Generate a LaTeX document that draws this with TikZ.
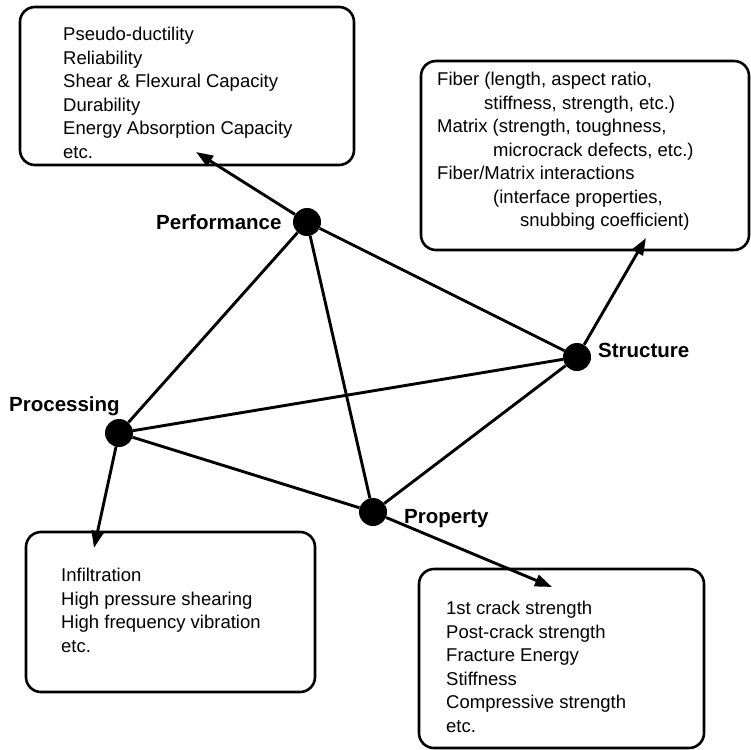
\documentclass[tikz,border=0pt]{standalone}
\usepackage{fontspec}
\setmainfont{Liberation Sans}
\usetikzlibrary{arrows.meta}
\begin{document}
\begin{tikzpicture}[x=1pt,y=-1pt,
  dot/.style={circle,fill=black,minimum size=28pt,inner sep=0pt},
  edge/.style={line width=2.9pt},
  arr/.style={line width=2.9pt,-{Triangle[length=17pt,width=12pt]}},
  panel/.style={draw,line width=2.6pt,rounded corners=15pt},
  boxtext/.style={anchor=north west,inner sep=0pt,align=left,font=\fontsize{18.5}{23.5}\selectfont},
  lab/.style={anchor=base west,inner sep=0pt,font=\fontsize{20.5}{24}\selectfont\bfseries}]
\fill[white] (0,0) rectangle (751,749);
\useasboundingbox (0,0) rectangle (751,749);

% boxes
\draw[panel] (20,7) rectangle (354,165);
\draw[panel] (421,61) rectangle (749,250);
\draw[panel] (26,532) rectangle (315,692);
\draw[panel] (419,569) rectangle (704,748);

% box texts
\node[boxtext] (perfText) at (63,27) {Pseudo-ductility\\Reliability\\Shear \& Flexural Capacity\\Durability\\Energy Absorption Capacity\\etc.};
\node[boxtext] (strucText) at (437,72) {Fiber (length, aspect ratio,\\\hspace*{47pt}stiffness, strength, etc.)\\Matrix (strength, toughness,\\\hspace*{56pt}microcrack defects, etc.)\\Fiber/Matrix interactions\\\hspace*{56pt}(interface properties,\\\hspace*{83pt}snubbing coefficient)};
\node[boxtext] (procText) at (61,568) {Infiltration\\High pressure shearing\\High frequency vibration\\etc.};
\node[boxtext] (propText) at (446,601) {1st crack strength\\Post-crack strength\\Fracture Energy\\Stiffness\\Compressive strength\\etc.};

% dots
\node[dot] (perf) at (307,222) {};
\node[dot] (struc) at (577,357) {};
\node[dot] (proc) at (119,433) {};
\node[dot] (prop) at (373,512) {};

% labels
\node[lab] (perfLab) at (156,229) {Performance};
\node[lab] (strucLab) at (598,357) {Structure};
\node[lab] (procLab) at (9,411) {Processing};
\node[lab] (propLab) at (404,523) {Property};

% tetrahedron edges
\draw[edge] (perf) -- (struc);
\draw[edge] (perf) -- (proc);
\draw[edge] (perf) -- (prop);
\draw[edge] (proc) -- (struc);
\draw[edge] (proc) -- (prop);
\draw[edge] (prop) -- (struc);

% arrow tips
\coordinate (perfTip) at (196,152);
\coordinate (strucTip) at (646,238);
\coordinate (procTip) at (94,548);
\coordinate (propTip) at (552,587);
\draw[arr] (perf) -- (perfTip);
\draw[arr] (struc) -- (strucTip);
\draw[arr] (proc) -- (procTip);
\draw[arr] (prop) -- (propTip);
\end{tikzpicture}
\end{document}
